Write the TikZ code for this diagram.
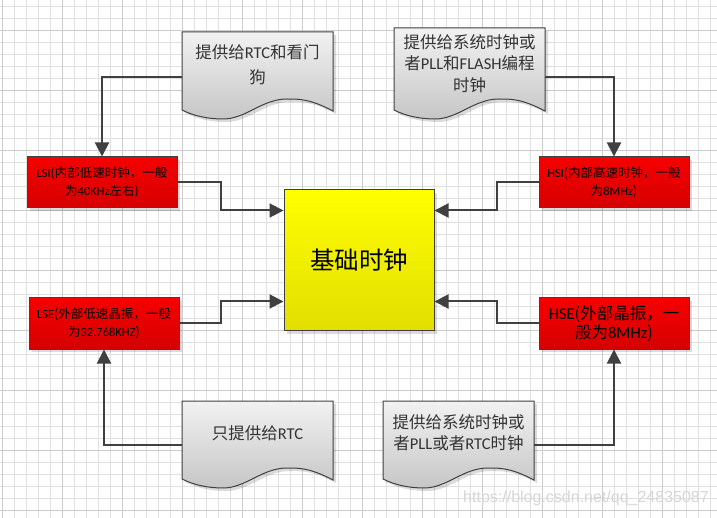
\documentclass[tikz,border=0pt]{standalone}
\usepackage{fontspec}
\setmainfont{Carlito}
\newfontfamily\cjk{Noto Sans CJK SC}
\newfontfamily\wmfont{Liberation Sans}
\usetikzlibrary{arrows.meta,calc,shadows}
\definecolor{lnc}{RGB}{64,64,64}
\definecolor{redtop}{RGB}{246,0,0}
\definecolor{redbot}{RGB}{214,0,0}
\definecolor{yeltop}{RGB}{255,255,0}
\definecolor{yelbot}{RGB}{226,222,0}
\definecolor{doctop}{RGB}{242,242,242}
\definecolor{docbot}{RGB}{198,198,198}
\definecolor{gridminor}{RGB}{224,224,224}
\definecolor{gridmajor}{RGB}{204,204,204}
\newcommand\docshape[3]{\path[docstyle] (#1,#2) -- (#1+151,#2) -- (#1+151,#2+#3+1) .. controls (#1+128,#2+#3-11) and (#1+118,#2+#3-11) .. (#1+105,#2+#3-11) .. controls (#1+80,#2+#3-11) and (#1+64,#2+#3+9) .. (#1+41,#2+#3+9) .. controls (#1+26,#2+#3+9) and (#1+12,#2+#3+6) .. (#1,#2+#3) -- cycle;}
\tikzset{
  shad/.style={drop shadow={shadow xshift=3pt,shadow yshift=-3pt,fill=black,opacity=.14}},
  redbox/.style={shad,draw=lnc,line width=1pt,top color=redtop,bottom color=redbot,
    minimum width=150pt,minimum height=51pt,inner sep=0pt,align=center,text=black},
  smalltxt/.style={font=\fontsize{12.5}{18}\selectfont},
  bigtxt/.style={font=\fontsize{16.5}{18.5}\selectfont},
  corebox/.style={shad,draw=lnc,line width=1pt,top color=yeltop,bottom color=yelbot,
    minimum width=150pt,minimum height=141pt,inner sep=0pt,font=\cjk\fontsize{24.5}{28}\selectfont},
  docstyle/.style={shad,draw=lnc,line width=1pt,top color=doctop,bottom color=docbot},
  docanchor/.style={anchor=north west,minimum width=151pt,inner sep=0pt,draw=none},
  doctext/.style={align=center,inner sep=0pt,text=black!80,font=\fontsize{16.5}{21.5}\selectfont},
  conn/.style={draw=lnc,line width=2pt,-{Triangle[length=14pt,width=14pt]}},
  wm/.style={font=\wmfont\fontsize{16}{18}\selectfont,text=black!16}
}
\begin{document}
\begin{tikzpicture}[x=1pt,y=-1pt]
\useasboundingbox (0,0) rectangle (717,518);
\fill[white] (0,0) rectangle (717,518);
% grid
\foreach \i in {0,...,59} {\draw[gridminor,line width=0.9pt] ({2.5+12*\i},0) -- ({2.5+12*\i},518);}
\foreach \j in {0,...,42} {\draw[gridminor,line width=0.9pt] (0,{6.7+12*\j}) -- (717,{6.7+12*\j});}
\foreach \i in {0,...,11} {\draw[gridmajor,line width=0.9pt] ({2.5+60*\i},0) -- ({2.5+60*\i},518);}
\foreach \j in {0,...,8} {\draw[gridmajor,line width=0.9pt] (0,{30.7+60*\j}) -- (717,{30.7+60*\j});}

% documents
\docshape{182}{32}{78}
\docshape{394}{28}{82}
\docshape{182}{401}{78}
\docshape{383}{401}{78}
\node[docanchor,minimum height=90pt] (tl) at (182,32) {};
\node[docanchor,minimum height=98pt] (tr) at (394,28) {};
\node[docanchor,minimum height=88pt] (bl) at (182,401) {};
\node[docanchor,minimum height=88pt] (br) at (383,401) {};
\node[doctext,font=\fontsize{16.5}{25}\selectfont] (tlt) at (257.5,64.5) {{\cjk 提供给}RTC{\cjk 和看门}\\{\cjk 狗}};
\node[doctext] (trt) at (469.5,63.5) {{\cjk 提供给系统时钟或}\\{\cjk 者}PLL{\cjk 和}FLASH{\cjk 编程}\\{\cjk 时钟}};
\node[doctext] (blt) at (257.5,433.5) {{\cjk 只提供给}RTC};
\node[doctext] (brt) at (458.5,432.5) {{\cjk 提供给系统时钟或}\\{\cjk 者}PLL{\cjk 或者}RTC{\cjk 时钟}};

% clock boxes
\node[redbox,smalltxt] (lsi) at (102,182.5) {LSI{\cjk (内部低速时钟，一般}\\{\cjk 为}40KHz{\cjk 左右)}};
\node[redbox,smalltxt] (hsi) at (614,182.5) {HSI{\cjk (内部高速时钟，一般}\\{\cjk 为}8MHz{\cjk )}};
\node[redbox,smalltxt] (lse) at (104,323.5) {LSE{\cjk (外部低速晶振，一般}\\{\cjk 为}32.768KHZ{\cjk )}};
\node[redbox,bigtxt] (hse) at (614,323.5) {HSE{\cjk (外部晶振，一}\\{\cjk 般为}8MHz{\cjk )}};

% core
\node[corebox] (core) at (359,260.5) {基础时钟};

% connectors
\draw[conn] (tl.west) -| (lsi.north);
\draw[conn] (tr.east) -| (hsi.north);
\draw[conn] (bl.west) -| (lse.south);
\draw[conn] (br.east) -| (hse.south);
\draw[conn] (lsi.east) -- ++(43,0) |- ($(core.north west)+(0,21)$);
\draw[conn] (hsi.west) -- ++(-42,0) |- ($(core.north east)+(0,21)$);
\draw[conn] (lse.east) -- ++(41,0) |- ($(core.south west)+(0,-30)$);
\draw[conn] (hse.west) -- ++(-42,0) |- ($(core.south east)+(0,-30)$);

% watermark
\node[wm] (wmark) at (586,498) {https://blog.csdn.net/qq\_24835087};
\end{tikzpicture}
\end{document}
